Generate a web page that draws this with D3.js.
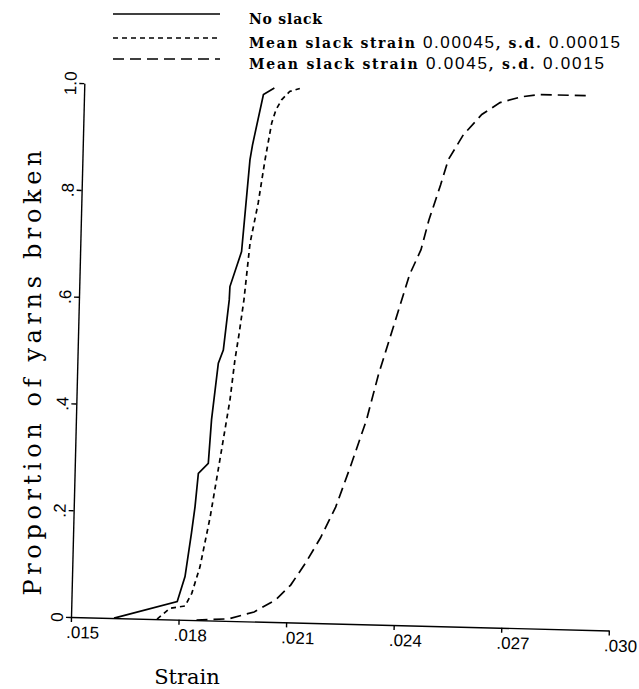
<!DOCTYPE html>
<html>
<head>
<meta charset="utf-8">
<script src="https://cdn.jsdelivr.net/npm/d3@7"></script>
<style>
  body { margin: 0; background: #fff; }
  svg { display: block; }
  .tick text { font-family: "Liberation Sans", Arial, sans-serif; font-size: 17px; fill: #000; }
</style>
</head>
<body>
<svg width="639" height="689"></svg>
<script>
// cumulative proportion of yarns broken against strain
const noSlackStrain = [.0162, .01795, .01815, .0183, .01838, .01845, .01872, .01878, .01893, .01906, .01919, .0192, .0195, .01967, .01973, .0200, .0203];
const noSlackProp   = [0, .034, .081, .163, .212, .275, .294, .376, .482, .507, .601, .626, .692, .864, .892, .987, 1.0];

const smallSlackStrain = [.0174, .01775, .01817, .01835, .01856, .01881, .01904, .01928, .01939, .01949, .0196, .01973, .01993, .02009, .02025, .02036, .02051, .02073, .02101];
const smallSlackProp   = [0, .021, .026, .050, .100, .194, .301, .414, .489, .539, .602, .708, .784, .865, .934, .959, .978, .994, 1.0];

const bigSlackStrain = [.0185, .0194, .0201, .0207, .0211, .0215, .0219, .0223, .0227, .0231, .0234, .0238, .0242, .0245, .0247, .025, .0252, .0256, .0261, .0266, .0272, .0277, .0291];
const bigSlackProp   = [0, .004, .018, .042, .070, .112, .160, .218, .298, .383, .468, .562, .657, .704, .760, .826, .874, .921, .960, .983, .995, 1.0, 1.0];

const xTicks = [.015, .018, .021, .024, .027, .030];
const xTickLabels = [".015", ".018", ".021", ".024", ".027", ".030"];
const yTicks = [0, .2, .4, .6, .8, 1.0];
const yTickLabels = ["0", ".2", ".4", ".6", ".8", "1.0"];

const legendLabels = [
  ["No slack"],
  ["Mean slack strain ", "0.00045", ", s.d. ", "0.00015"],
  ["Mean slack strain ", "0.0045", ", s.d. ", "0.0015"]
];

const series = [
  { strain: noSlackStrain, prop: noSlackProp, dash: null },
  { strain: smallSlackStrain, prop: smallSlackProp, dash: "5,4" },
  { strain: bigSlackStrain, prop: bigSlackProp, dash: "11,6" }
];

const svg = d3.select("svg");
const origin = { x: 71, y: 617 },
      width = 538,
      height = 534;

// the scanned figure sits slightly rotated on the page
const chart = svg.append("g")
  .attr("transform", `rotate(1.43,${origin.x},${origin.y}) translate(${origin.x},${origin.y - height})`);

const x = d3.scaleLinear().domain([.015, .030]).range([0, width]);
const y = d3.scaleLinear().domain([0, 1]).range([height, 0]);

const xAxis = chart.append("g")
  .attr("transform", `translate(0,${height})`)
  .call(d3.axisBottom(x).tickValues(xTicks).tickFormat((d, i) => xTickLabels[i]).tickSize(5).tickSizeOuter(0));
xAxis.selectAll(".tick text")
  .attr("text-anchor", "start")
  .attr("x", -5)
  .attr("y", 9)
  .attr("dy", "0.71em");

const yAxis = chart.append("g")
  .call(d3.axisLeft(y).tickValues(yTicks).tickFormat((d, i) => yTickLabels[i]).tickSize(5).tickSizeOuter(0));
yAxis.selectAll(".tick text")
  .attr("x", 0)
  .attr("y", 0)
  .attr("dy", 0)
  .attr("text-anchor", "middle")
  .attr("transform", "translate(-8,0) rotate(-90)");

chart.selectAll(".domain, .tick line")
  .attr("stroke", "#000")
  .attr("stroke-width", 1.4);

const line = d3.line()
  .x(d => x(d[0]))
  .y(d => y(d[1]));

chart.selectAll(".curve")
  .data(series)
  .enter().append("path")
  .attr("class", "curve")
  .attr("d", s => line(d3.zip(s.strain, s.prop)))
  .attr("fill", "none")
  .attr("stroke", "#000")
  .attr("stroke-width", 1.7)
  .attr("stroke-dasharray", s => s.dash);

// legend
const legendY = [14, 38, 59];
const legendLen = [73, 371, 355];
const legend = svg.append("g");
legend.selectAll("line")
  .data(series)
  .enter().append("line")
  .attr("x1", 113)
  .attr("x2", 220)
  .attr("y1", (d, i) => legendY[i])
  .attr("y2", (d, i) => legendY[i])
  .attr("stroke", "#000")
  .attr("stroke-width", 1.5)
  .attr("stroke-dasharray", d => d.dash);

const legendText = legend.selectAll("text")
  .data(legendLabels)
  .enter().append("text")
  .attr("x", 249)
  .attr("y", (d, i) => legendY[i] + 10)
  .attr("textLength", (d, i) => legendLen[i])
  .attr("lengthAdjust", "spacing")
  .style("font-size", "15px");
legendText.selectAll("tspan")
  .data(d => d)
  .enter().append("tspan")
  .style("font-family", (d, i) => i % 2 ? "'Liberation Sans', Arial, sans-serif" : "'DejaVu Serif', serif")
  .style("font-weight", (d, i) => i % 2 ? "normal" : "bold")
  .style("font-size", (d, i) => i % 2 ? "17px" : "14px")
  .text(d => d);

// axis titles
svg.append("text")
  .attr("x", 187)
  .attr("y", 684)
  .attr("text-anchor", "middle")
  .style("font-family", "'DejaVu Serif', serif")
  .style("font-size", "21px")
  .text("Strain");

svg.append("text")
  .attr("transform", "translate(41,373) rotate(-90)")
  .attr("text-anchor", "middle")
  .attr("textLength", 445)
  .attr("lengthAdjust", "spacing")
  .style("font-family", "'DejaVu Serif', serif")
  .style("font-size", "24px")
  .text("Proportion of yarns broken");
</script>
</body>
</html>
